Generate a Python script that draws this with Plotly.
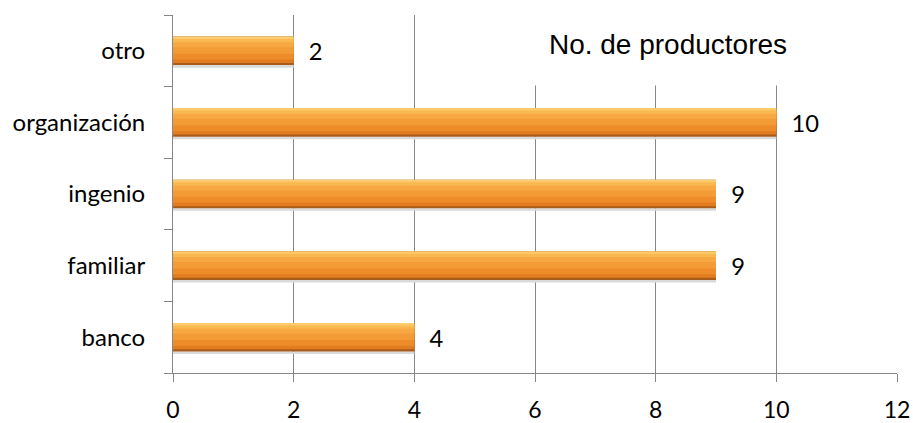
import plotly.graph_objects as go

categorias = ['banco', 'familiar', 'ingenio', 'organización', 'otro']
productores = [4, 9, 9, 10, 2]
titulo = 'No. de productores'
x_ticks = [0, 2, 4, 6, 8, 10, 12]

# layers of each bar, bottom to top: (offset, width, colour) -> fake gradient
capas = [
    (-0.235, 0.035, '#DADADA'),
    (-0.2, 0.4, '#A95B1A'),
    (-0.17, 0.35, '#E27C20'),
    (-0.12, 0.28, '#EE8C2A'),
    (-0.04, 0.2, '#F39B36'),
    (0.05, 0.12, '#F7A842'),
    (0.12, 0.06, '#FAB850'),
    (0.165, 0.035, '#FCCB6A'),
]

fig = go.Figure()
for i, (off, w, col) in enumerate(capas):
    fig.add_trace(go.Bar(
        y=categorias, x=productores, orientation='h', width=w, offset=off,
        marker=dict(color=col, line=dict(width=0)), hoverinfo='skip',
        text=['  ' + str(v) for v in productores] if i == 1 else None,
        textposition='outside' if i == 1 else 'none',
        textfont=dict(family='Lato, Liberation Sans', size=24, color='black'),
        cliponaxis=False))

fig.update_layout(
    width=913, height=423, barmode='overlay', showlegend=False,
    plot_bgcolor='white', paper_bgcolor='white',
    margin=dict(l=173, r=16, t=15, b=50),
    font=dict(family='Lato, Liberation Sans', size=24, color='black'),
    xaxis=dict(range=[0, 12], tickvals=x_ticks, showgrid=True, gridcolor='#878787',
               gridwidth=1, zeroline=False, showline=True, linecolor='#878787',
               ticks='outside', ticklen=8, tickcolor='#878787', automargin=False,
               ticklabelstandoff=8, tickfont=dict(size=23), fixedrange=True),
    yaxis=dict(showline=True, linecolor='#878787', ticks='outside', ticklen=8,
               tickcolor='#878787', tickson='boundaries', showgrid=False,
               automargin=False, ticklabelstandoff=22, tickfont=dict(size=24),
               fixedrange=True),
    annotations=[dict(text=titulo, xref='paper', yref='paper', x=0.6837, y=0.92,
                      xanchor='center', yanchor='middle', showarrow=False,
                      bgcolor='white', width=272, height=80,
                      font=dict(family='Liberation Sans, Arial', size=28, color='black'))],
)

# drop the default 8px body margin so the figure fills the window
fig.write_html('out.html', config={'displayModeBar': False},
               post_script="document.body.style.margin='0';document.body.style.overflow='hidden';")
